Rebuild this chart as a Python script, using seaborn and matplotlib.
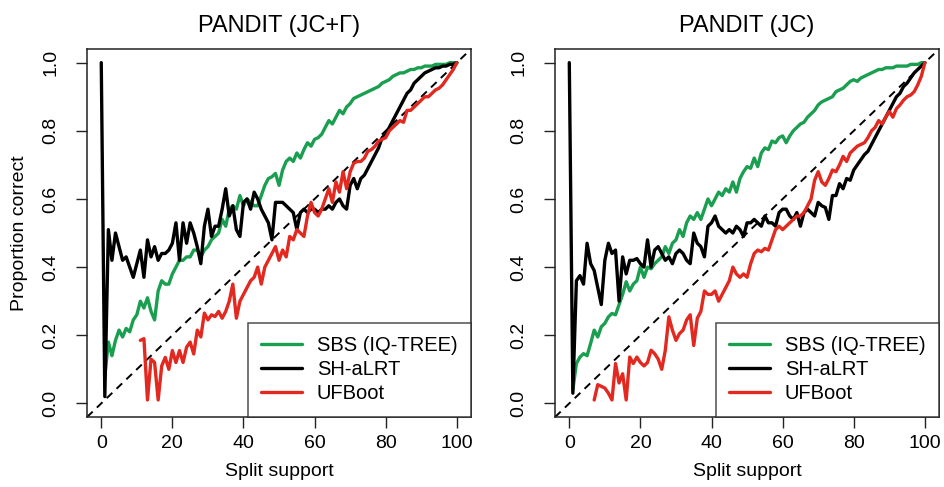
import matplotlib
matplotlib.use("Agg")
import matplotlib.pyplot as plt
import pandas as pd
import seaborn as sns

# split support bins 0..100
support = list(range(0, 101))

# PANDIT (JC+Gamma)
gamma_shalrt = [
    1.00, 0.02, 0.51, 0.42, 0.50, 0.46, 0.42, 0.43, 0.40, 0.37,
    0.41, 0.45, 0.37, 0.48, 0.43, 0.46, 0.42, 0.44, 0.44, 0.45,
    0.47, 0.53, 0.42, 0.53, 0.47, 0.53, 0.50, 0.46, 0.41, 0.52,
    0.57, 0.49, 0.52, 0.52, 0.57, 0.63, 0.55, 0.58, 0.51, 0.49,
    0.59, 0.60, 0.57, 0.62, 0.60, 0.57, 0.55, 0.53, 0.48, 0.59,
    0.59, 0.59, 0.58, 0.57, 0.56, 0.51, 0.56, 0.57, 0.56, 0.57,
    0.57, 0.56, 0.57, 0.57, 0.58, 0.57, 0.59, 0.60, 0.58, 0.57,
    0.64, 0.66, 0.63, 0.66, 0.67, 0.69, 0.71, 0.73, 0.75, 0.78,
    0.79, 0.81, 0.83, 0.85, 0.87, 0.89, 0.91, 0.92, 0.94, 0.95,
    0.96, 0.97, 0.975, 0.98, 0.985, 0.985, 0.99, 0.99, 0.995, 0.995,
    1.00]
gamma_sbs_start = 1
gamma_sbs = [
    0.08, 0.18, 0.14, 0.185, 0.215, 0.195, 0.22, 0.21, 0.245,
    0.26, 0.30, 0.28, 0.31, 0.27, 0.245, 0.33, 0.36, 0.35, 0.35,
    0.38, 0.40, 0.42, 0.42, 0.43, 0.43, 0.45, 0.45, 0.43, 0.45,
    0.46, 0.48, 0.49, 0.50, 0.54, 0.52, 0.57, 0.58, 0.57, 0.61,
    0.58, 0.60, 0.59, 0.58, 0.58, 0.61, 0.64, 0.66, 0.665, 0.675,
    0.64, 0.685, 0.71, 0.72, 0.71, 0.735, 0.72, 0.745, 0.765, 0.755,
    0.775, 0.78, 0.79, 0.81, 0.83, 0.82, 0.84, 0.86, 0.85, 0.87,
    0.88, 0.895, 0.90, 0.905, 0.91, 0.915, 0.92, 0.925, 0.93, 0.94,
    0.945, 0.95, 0.96, 0.965, 0.97, 0.97, 0.975, 0.98, 0.98, 0.985,
    0.985, 0.99, 0.99, 0.99, 0.995, 0.995, 0.995, 0.995, 1.00, 1.00,
    1.00]
gamma_ufboot_start = 11
gamma_ufboot = [
    0.185, 0.19, 0.01, 0.13, 0.12, 0.01, 0.11, 0.135, 0.10,
    0.155, 0.12, 0.155, 0.12, 0.165, 0.18, 0.145, 0.215, 0.195, 0.265,
    0.245, 0.26, 0.255, 0.27, 0.25, 0.27, 0.30, 0.35, 0.25, 0.30,
    0.32, 0.34, 0.36, 0.37, 0.40, 0.35, 0.40, 0.42, 0.44, 0.46,
    0.42, 0.45, 0.43, 0.49, 0.48, 0.51, 0.50, 0.49, 0.55, 0.59,
    0.56, 0.55, 0.57, 0.60, 0.63, 0.59, 0.65, 0.62, 0.68, 0.63,
    0.68, 0.705, 0.71, 0.71, 0.72, 0.74, 0.745, 0.755, 0.77, 0.775,
    0.78, 0.80, 0.81, 0.82, 0.83, 0.825, 0.86, 0.86, 0.87, 0.88,
    0.89, 0.90, 0.90, 0.91, 0.92, 0.925, 0.935, 0.95, 0.965, 0.98,
    1.00]

# PANDIT (JC)
jc_shalrt = [
    1.00, 0.03, 0.36, 0.375, 0.35, 0.47, 0.41, 0.39, 0.34, 0.29,
    0.42, 0.47, 0.44, 0.45, 0.30, 0.43, 0.38, 0.42, 0.42, 0.425,
    0.41, 0.40, 0.48, 0.40, 0.45, 0.46, 0.44, 0.42, 0.43, 0.41,
    0.44, 0.45, 0.44, 0.42, 0.41, 0.50, 0.47, 0.46, 0.43, 0.52,
    0.53, 0.55, 0.52, 0.51, 0.50, 0.51, 0.50, 0.52, 0.51, 0.49,
    0.53, 0.53, 0.54, 0.53, 0.52, 0.55, 0.53, 0.53, 0.52, 0.56,
    0.57, 0.57, 0.55, 0.54, 0.56, 0.52, 0.56, 0.57, 0.56, 0.55,
    0.59, 0.58, 0.575, 0.54, 0.61, 0.61, 0.645, 0.63, 0.66, 0.655,
    0.685, 0.70, 0.715, 0.73, 0.74, 0.76, 0.78, 0.80, 0.82, 0.84,
    0.86, 0.88, 0.90, 0.91, 0.93, 0.94, 0.955, 0.97, 0.98, 0.99,
    1.00]
jc_sbs_start = 1
jc_sbs = [
    0.04, 0.117, 0.136, 0.146, 0.14, 0.176, 0.215, 0.195, 0.225,
    0.235, 0.254, 0.264, 0.26, 0.29, 0.32, 0.357, 0.33, 0.35, 0.36,
    0.40, 0.37, 0.40, 0.395, 0.41, 0.42, 0.43, 0.46, 0.44, 0.47,
    0.48, 0.51, 0.49, 0.53, 0.55, 0.54, 0.56, 0.54, 0.57, 0.60,
    0.58, 0.60, 0.62, 0.61, 0.63, 0.62, 0.65, 0.62, 0.66, 0.68,
    0.695, 0.69, 0.72, 0.695, 0.735, 0.75, 0.745, 0.77, 0.765, 0.78,
    0.785, 0.765, 0.785, 0.80, 0.81, 0.82, 0.825, 0.84, 0.85, 0.86,
    0.876, 0.885, 0.89, 0.895, 0.90, 0.915, 0.92, 0.925, 0.935, 0.945,
    0.95, 0.945, 0.955, 0.96, 0.965, 0.97, 0.975, 0.98, 0.98, 0.985,
    0.985, 0.985, 0.99, 0.99, 0.99, 0.99, 0.995, 0.995, 0.995, 1.00,
    1.00]
jc_ufboot_start = 7
jc_ufboot = [
    0.01, 0.055, 0.05, 0.045, 0.03, 0.01, 0.117, 0.06, 0.087,
    0.01, 0.136, 0.117, 0.136, 0.12, 0.11, 0.12, 0.156, 0.146, 0.13,
    0.10, 0.156, 0.254, 0.215, 0.185, 0.205, 0.215, 0.245, 0.26, 0.17,
    0.25, 0.27, 0.33, 0.32, 0.32, 0.33, 0.30, 0.32, 0.34, 0.36,
    0.40, 0.38, 0.37, 0.38, 0.37, 0.41, 0.44, 0.45, 0.445, 0.455,
    0.45, 0.48, 0.51, 0.52, 0.51, 0.52, 0.53, 0.54, 0.55, 0.55,
    0.56, 0.58, 0.60, 0.655, 0.68, 0.65, 0.64, 0.66, 0.685, 0.68,
    0.70, 0.725, 0.71, 0.735, 0.745, 0.755, 0.76, 0.765, 0.78, 0.80,
    0.81, 0.83, 0.82, 0.84, 0.857, 0.84, 0.865, 0.876, 0.89, 0.90,
    0.905, 0.915, 0.935, 0.96, 1.00]

methods = ["SBS (IQ-TREE)", "SH-aLRT", "UFBoot"]
colors = {"SBS (IQ-TREE)": "#1a9e50", "SH-aLRT": "#000000", "UFBoot": "#e2281f"}
titles = ["PANDIT (JC+\u0393)", "PANDIT (JC)"]


def panel_frame(sbs, sbs_start, shalrt, ufboot, uf_start):
    rows = []
    for i, v in enumerate(sbs):
        rows.append((methods[0], support[sbs_start + i], v))
    for i, v in enumerate(shalrt):
        rows.append((methods[1], support[i], v))
    for i, v in enumerate(ufboot):
        rows.append((methods[2], support[uf_start + i], v))
    return pd.DataFrame(rows, columns=["method", "support", "correct"])


frames = [
    panel_frame(gamma_sbs, gamma_sbs_start, gamma_shalrt, gamma_ufboot, gamma_ufboot_start),
    panel_frame(jc_sbs, jc_sbs_start, jc_shalrt, jc_ufboot, jc_ufboot_start),
]

sns.set_style("ticks")
plt.rcParams["font.family"] = ["Liberation Sans", "DejaVu Sans"]
plt.rcParams["font.size"] = 14
for key in ["text.color", "axes.labelcolor", "xtick.color", "ytick.color"]:
    plt.rcParams[key] = "black"

fig = plt.figure(figsize=(9.44, 4.87), dpi=100)
axes = [fig.add_axes([0.0922, 0.1437, 0.4068, 0.7556]),
        fig.add_axes([0.5880, 0.1437, 0.4068, 0.7556])]

for ax, df, title in zip(axes, frames, titles):
    ax.axline((0, 0), slope=0.01, color="black", lw=1.4, ls=(0, (4, 3)), zorder=1)
    sns.lineplot(data=df, x="support", y="correct", hue="method",
                 hue_order=methods, palette=colors, estimator=None,
                 lw=2.4, ax=ax, zorder=2)
    ax.set_xlim(-4, 104)
    ax.set_ylim(-0.04, 1.04)
    ax.set_xticks([0, 20, 40, 60, 80, 100])
    ax.set_yticks([0.0, 0.2, 0.4, 0.6, 0.8, 1.0])
    ax.set_yticklabels(["0.0", "0.2", "0.4", "0.6", "0.8", "1.0"],
                       rotation=90, va="center")
    ax.tick_params(axis="both", length=8, width=1.0, color="#222222",
                   labelsize=14, direction="out")
    ax.tick_params(axis="x", pad=5)
    ax.tick_params(axis="y", pad=12)
    for sp in ax.spines.values():
        sp.set_linewidth(1.1)
        sp.set_color("#222222")
    ax.set_title(title, fontsize=17, pad=12)
    ax.set_xlabel("Split support", fontsize=14, labelpad=8)
    ax.set_ylabel("")
    handles, labels = ax.get_legend_handles_labels()
    leg = ax.legend(handles, labels, loc="lower right", borderaxespad=0,
                    frameon=True, fancybox=False, fontsize=14.5,
                    handlelength=2.0, handletextpad=0.75, labelspacing=0.25,
                    borderpad=0.68)
    leg.get_frame().set_edgecolor("#222222")
    leg.get_frame().set_linewidth(1.1)
    for line in leg.get_lines():
        line.set_linewidth(2.4)

axes[0].set_ylabel("Proportion correct", fontsize=14, labelpad=10)

fig.savefig("out.png", dpi=100)
